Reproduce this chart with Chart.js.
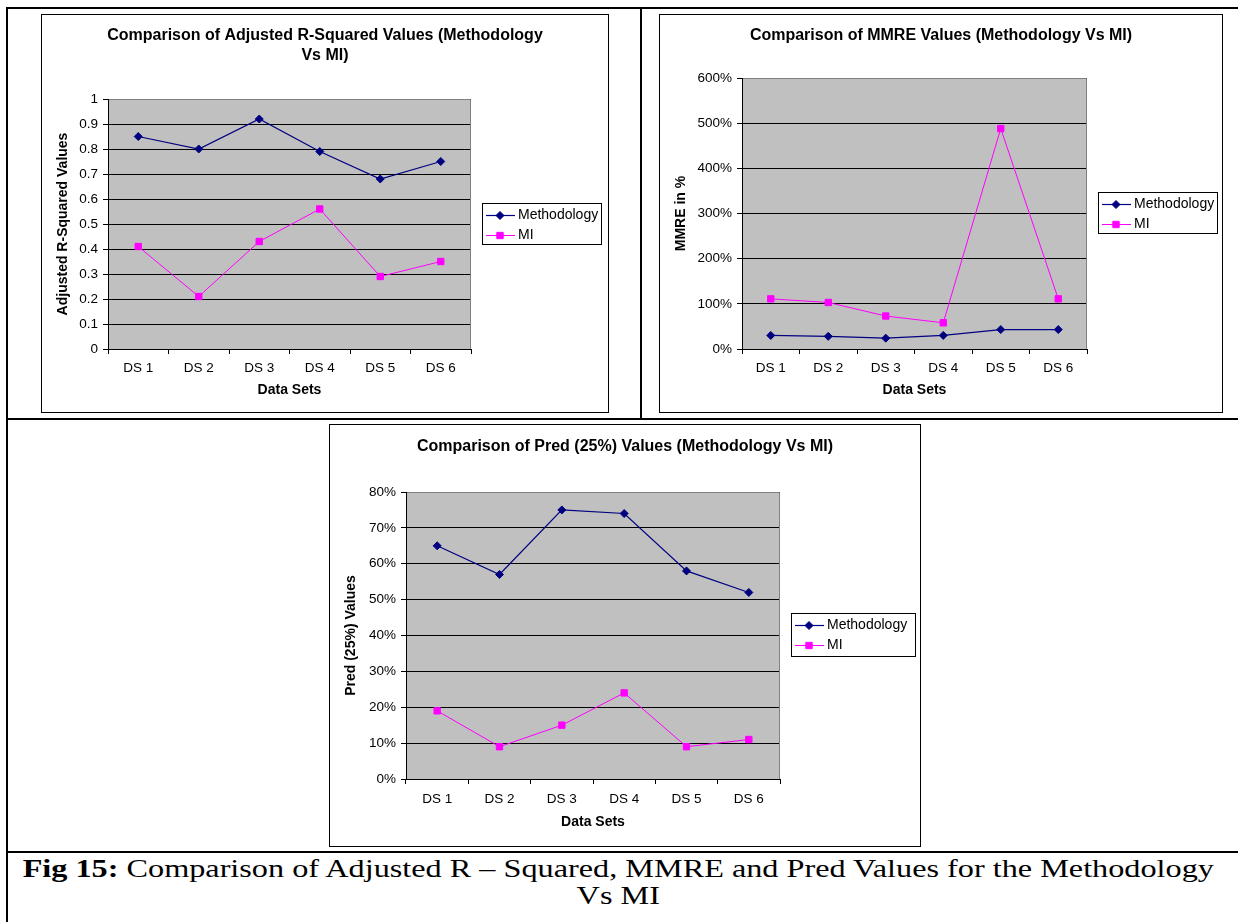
<!DOCTYPE html>
<html>
<head>
<meta charset="utf-8">
<title>Fig 15</title>
<script src="https://cdn.jsdelivr.net/npm/chart.js@4.4.1/dist/chart.umd.min.js"></script>
<style>
  html, body { margin: 0; padding: 0; background: #fff; }
  body { width: 1238px; height: 922px; position: relative; overflow: hidden; }
  .rule { position: absolute; background: #000; }
  .frame { position: absolute; border: 1px solid #000; box-sizing: border-box; background: #fff; }
  .frame canvas { display: block; }
  .caption {
    position: absolute; left: 0; width: 1238px; top: 855px;
    text-align: center; color: #000; white-space: nowrap;
    font-family: 'Liberation Serif', 'Times New Roman', serif;
    font-size: 26px; line-height: 27px;
    transform: scaleX(1.24); transform-origin: 622px 0;
  }
</style>
</head>
<body>

<!-- table rules -->
<div class="rule" style="left:6px; top:7px; width:1232px; height:2px;"></div>
<div class="rule" style="left:6px; top:7px; width:2px; height:915px;"></div>
<div class="rule" style="left:640px; top:7px; width:2px; height:413px;"></div>
<div class="rule" style="left:6px; top:418px; width:1232px; height:2px;"></div>
<div class="rule" style="left:6px; top:851px; width:1232px; height:2px;"></div>

<div class="frame" style="left:41px; top:14px; width:568px; height:399px;">
  <canvas id="rsq-chart" width="566" height="397"></canvas>
</div>
<div class="frame" style="left:659px; top:14px; width:564px; height:399px;">
  <canvas id="mmre-chart" width="562" height="397"></canvas>
</div>
<div class="frame" style="left:329px; top:424px; width:592px; height:423px;">
  <canvas id="pred-chart" width="590" height="421"></canvas>
</div>

<div class="caption"><b>Fig 15:</b> Comparison of Adjusted R – Squared, MMRE and Pred Values for the Methodology<br>Vs MI</div>

<script>
const dataSets = ['DS 1', 'DS 2', 'DS 3', 'DS 4', 'DS 5', 'DS 6'];

// Adjusted R-Squared
const rsqMethodology = [0.85, 0.80, 0.92, 0.79, 0.68, 0.75];
const rsqMI = [0.41, 0.21, 0.43, 0.56, 0.29, 0.35];

// MMRE (percent)
const mmreMethodology = [30, 28, 24, 30, 43, 43];
const mmreMI = [111, 103, 73, 58, 488, 111];

// Pred (25%) (percent)
const predMethodology = [65, 57, 75, 74, 58, 52];
const predMI = [19, 9, 15, 24, 9, 11];

// value axes: min, max, step
const rsqAxis = [0, 1, 0.1];
const mmreAxis = [0, 600, 100];
const predAxis = [0, 80, 10];

const FONT = "'Liberation Sans', Arial, sans-serif";
const NAVY = '#000080';
const MAGENTA = '#ff00ff';

// grey plot area with a lighter frame on top/right, Excel style
const plotArea = {
  id: 'plotArea',
  beforeDraw(chart) {
    const { ctx, chartArea: a } = chart;
    ctx.save();
    ctx.fillStyle = '#c0c0c0';
    ctx.fillRect(a.left, a.top, a.right - a.left, a.bottom - a.top);
    ctx.restore();
  },
  beforeDatasetsDraw(chart) {
    const { ctx, chartArea: a } = chart;
    ctx.save();
    ctx.strokeStyle = '#808080';
    ctx.lineWidth = 1;
    ctx.beginPath();
    ctx.moveTo(a.left + 1, a.top + 0.5);
    ctx.lineTo(a.right - 0.5, a.top + 0.5);
    ctx.lineTo(a.right - 0.5, a.bottom);
    ctx.stroke();
    ctx.restore();
  }
};

// empty box on the right so the legend sits beside the plot,
// while the title still centres on the whole canvas
const legendSpace = {
  id: 'legendSpace',
  beforeInit(chart, args, opts) {
    Chart.layouts.addBox(chart, {
      position: 'right',
      weight: 100,
      fullSize: false,
      options: {},
      isHorizontal: () => false,
      getPadding: () => ({ left: 0, right: 0, top: 0, bottom: 0 }),
      update(maxWidth, maxHeight) {
        this.width = opts.width;
        this.height = maxHeight;
      },
      draw() {}
    });
  }
};

// boxed legend: line + marker + label
const boxLegend = {
  id: 'boxLegend',
  afterDraw(chart, args, opts) {
    const { ctx } = chart;
    const [x, y, w, h] = opts.box;
    ctx.save();
    ctx.fillStyle = '#fff';
    ctx.fillRect(x, y, w, h);
    ctx.strokeStyle = '#000';
    ctx.lineWidth = 1;
    ctx.strokeRect(x + 0.5, y + 0.5, w - 1, h - 1);
    ctx.font = `14px ${FONT}`;
    ctx.textBaseline = 'middle';
    chart.data.datasets.forEach((ds, i) => {
      const cy = y + 12 + i * 20;
      ctx.strokeStyle = ds.borderColor;
      ctx.lineWidth = ds.borderWidth;
      ctx.beginPath();
      ctx.moveTo(x + 4, cy + 0.5);
      ctx.lineTo(x + 33, cy + 0.5);
      ctx.stroke();
      ctx.fillStyle = ds.backgroundColor;
      ctx.lineWidth = 1;
      Chart.helpers.drawPoint(ctx, { pointStyle: ds.pointStyle, radius: ds.pointRadius, borderWidth: 1 }, x + 18, cy + 0.5);
      ctx.fillStyle = '#000';
      ctx.fillText(ds.label, x + 36, cy);
    });
    ctx.restore();
  }
};

function lineChart(id, cfg) {
  const [min, max, step] = cfg.axis;
  return new Chart(document.getElementById(id), {
    type: 'line',
    data: {
      labels: dataSets,
      datasets: [{
        label: 'Methodology',
        data: cfg.methodology,
        borderColor: NAVY,
        backgroundColor: NAVY,
        borderWidth: 1.2,
        pointStyle: 'rectRot',
        pointRadius: 4,
        pointBorderWidth: 1,
        tension: 0
      }, {
        label: 'MI',
        data: cfg.mi,
        borderColor: MAGENTA,
        backgroundColor: MAGENTA,
        borderWidth: 1,
        pointStyle: 'rect',
        pointRadius: 4.5,
        pointBorderWidth: 1,
        tension: 0
      }]
    },
    options: {
      responsive: false,
      animation: false,
      devicePixelRatio: 1,
      layout: { padding: 0 },
      plugins: {
        legend: { display: false },
        tooltip: { enabled: false },
        title: {
          display: true,
          text: cfg.title,
          color: '#000',
          font: { family: FONT, size: 16, weight: 'bold', lineHeight: 1.25 },
          padding: { top: cfg.titlePad[0], bottom: cfg.titlePad[1] }
        },
        legendSpace: { width: cfg.right },
        boxLegend: { box: cfg.legend }
      },
      scales: {
        x: {
          type: 'category',
          offset: true,
          grid: { display: true, drawOnChartArea: false, drawTicks: true, tickLength: 5, offset: true, color: '#000' },
          border: { color: '#000', width: 1 },
          ticks: { color: '#000', font: { family: FONT, size: 13.5 }, padding: cfg.xPad, maxRotation: 0, autoSkip: false },
          title: {
            display: true, text: 'Data Sets', color: '#000',
            font: { family: FONT, size: 14, weight: 'bold' },
            padding: { top: 0, bottom: cfg.xTitlePad }
          },
          afterFit: s => { s.height = cfg.xHeight; }
        },
        y: {
          min: min,
          max: max,
          grid: { color: '#000', drawTicks: true, tickLength: 5 },
          border: { color: '#000', width: 1 },
          ticks: {
            stepSize: step,
            color: '#000',
            font: { family: FONT, size: 13.5 },
            padding: 5,
            callback: cfg.percent ? v => v + '%' : v => +v.toFixed(1)
          },
          title: {
            display: true, text: cfg.yTitle, color: '#000',
            font: { family: FONT, size: 14, weight: 'bold' },
            padding: { top: 13, bottom: 0 }
          },
          afterFit: s => { s.width = cfg.yWidth; }
        }
      }
    },
    plugins: [plotArea, legendSpace, boxLegend]
  });
}

lineChart('rsq-chart', {
  title: ['Comparison of Adjusted R-Squared Values (Methodology', 'Vs MI)'],
  titlePad: [11, 33],
  yTitle: 'Adjusted R-Squared Values',
  axis: rsqAxis,
  methodology: rsqMethodology,
  mi: rsqMI,
  percent: false,
  yWidth: 66, xHeight: 63, right: 137,
  xPad: 6, xTitlePad: 13,
  legend: [440, 188, 120, 42]
});

lineChart('mmre-chart', {
  title: 'Comparison of MMRE Values (Methodology Vs MI)',
  titlePad: [11, 32],
  yTitle: 'MMRE in %',
  axis: mmreAxis,
  methodology: mmreMethodology,
  mi: mmreMI,
  percent: true,
  yWidth: 82, xHeight: 63, right: 135,
  xPad: 6, xTitlePad: 13,
  legend: [438, 177, 120, 42]
});

lineChart('pred-chart', {
  title: 'Comparison of Pred (25%) Values (Methodology Vs MI)',
  titlePad: [12, 35],
  yTitle: 'Pred (25%) Values',
  axis: predAxis,
  methodology: predMethodology,
  mi: predMI,
  percent: true,
  yWidth: 76, xHeight: 67, right: 140,
  xPad: 7, xTitlePad: 15,
  legend: [461, 188, 125, 44]
});
</script>
</body>
</html>
